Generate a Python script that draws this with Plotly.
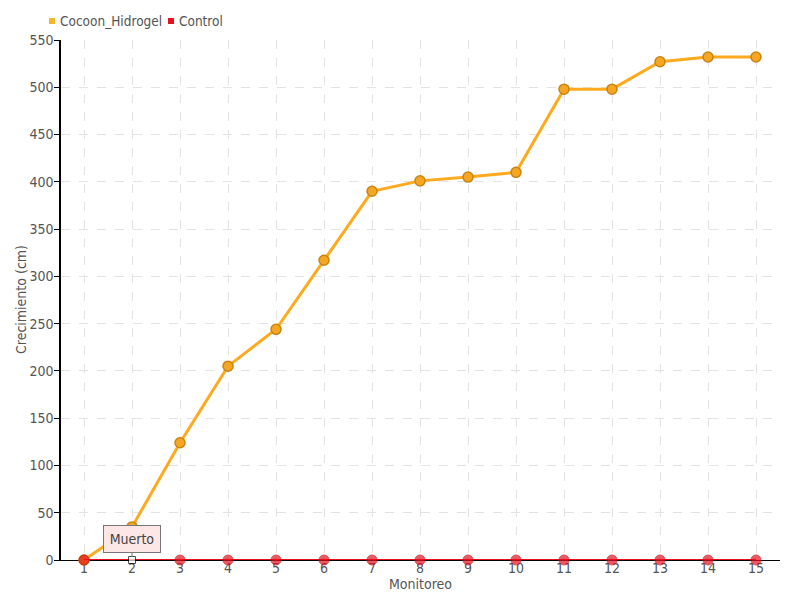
import plotly.graph_objects as go

monitoreo = list(range(1, 16))
cocoon_hidrogel = [0, 35, 124, 205, 244, 317, 390, 401, 405, 410, 498, 498, 527, 532, 532]
control = [0] * 15
y_ticks = list(range(0, 551, 50))
series_names = ["Cocoon_Hidrogel", "Control"]
x_title = "Monitoreo"
y_title = "Crecimiento (cm)"

FONT = "'DejaVu Sans Condensed', 'Liberation Sans Narrow', Roboto, sans-serif"
TXT = "#555555"
ORANGE = "#FFA91F"
RED = "#E8101E"

# page has an 8px body margin; plot area: screen 61..780 x 40..560
M_L, M_R, M_T, M_B = 53, 28, 32, 48
PW = 800 - M_L - M_R
PH = 600 - M_T - M_B

fig = go.Figure()
fig.add_trace(go.Scatter(
    x=monitoreo, y=cocoon_hidrogel, name=series_names[0], mode="lines+markers",
    line=dict(color=ORANGE, width=3), cliponaxis=False, showlegend=False,
    marker=dict(size=10, color="#F5A623", line=dict(color="#C98512", width=1.5)),
))
marker_colors = [RED] * 15
marker_colors[1] = "white"
marker_lines = ["#C80C18"] * 15
marker_lines[1] = "black"
marker_symbols = ["circle"] * 15
marker_symbols[1] = "square"
marker_sizes = [10] * 15
marker_sizes[1] = 7
fig.add_trace(go.Scatter(
    x=monitoreo, y=control, name=series_names[1], mode="lines+markers",
    line=dict(color=RED, width=2), cliponaxis=False, showlegend=False,
    marker=dict(size=marker_sizes, color=marker_colors, symbol=marker_symbols,
                line=dict(color=marker_lines, width=1)),
))

def px_x(x):
    return (x - 8 - M_L) / PW

def px_y(y):
    return (M_T + PH - (y - 8)) / PH

# manual legend (small square swatch right before each label)
legend_items = [(series_names[0], "#F5B62A", 52, 58), (series_names[1], RED, 171, 177)]
for name, col, sq_x, txt_x in legend_items:
    fig.add_shape(type="rect", xref="paper", yref="paper",
                  x0=px_x(sq_x - 3), x1=px_x(sq_x + 3), y0=px_y(24), y1=px_y(18),
                  fillcolor=col, line=dict(width=0))
    fig.add_annotation(x=px_x(txt_x), y=px_y(21), xref="paper", yref="paper",
                       text=name, showarrow=False, xanchor="left", yanchor="middle",
                       font=dict(family=FONT, size=13.5, color=TXT))

# axis titles
fig.add_annotation(x=px_x(21), y=px_y(300), xref="paper", yref="paper",
                   text=y_title, textangle=-90, showarrow=False,
                   xanchor="center", yanchor="middle",
                   font=dict(family=FONT, size=14, color=TXT))
fig.add_annotation(x=px_x(420), y=px_y(584), xref="paper", yref="paper",
                   text=x_title, showarrow=False,
                   xanchor="center", yanchor="middle",
                   font=dict(family=FONT, size=14, color=TXT))

fig.add_annotation(
    x=2, y=0, text="Muerto", showarrow=True, ax=0, ay=-21,
    arrowhead=0, arrowwidth=1, arrowcolor="#777777", standoff=3,
    bgcolor="#FCE6E6", bordercolor="#777777", borderwidth=1, borderpad=5,
    width=46, font=dict(family=FONT, size=14, color="#444444"),
)

fig.update_layout(
    width=800, height=600,
    margin=dict(l=M_L, r=M_R, t=M_T, b=M_B, autoexpand=False),
    paper_bgcolor="white", plot_bgcolor="white",
    font=dict(family=FONT, size=14, color=TXT),
    showlegend=False,
    xaxis=dict(
        range=[0.52, 15.5], tickvals=monitoreo, ticktext=[str(v) for v in monitoreo],
        showgrid=True, gridcolor="#E3E3E3", griddash="dash", gridwidth=1,
        showline=True, linecolor="black", linewidth=1.2, zeroline=False,
        ticks="", tickfont=dict(size=14, color=TXT), automargin=False,
        ticklabelstandoff=-5, layer="below traces",
    ),
    yaxis=dict(
        range=[0, 550], tickvals=y_ticks,
        showgrid=True, gridcolor="#E3E3E3", griddash="dash", gridwidth=1,
        showline=True, linecolor="black", linewidth=1.5, zeroline=False,
        ticks="outside", ticklen=5, tickcolor="black",
        tickfont=dict(size=14, color=TXT), automargin=False,
        ticklabelstandoff=-2, layer="below traces",
    ),
)

fig.write_html("out.html")
